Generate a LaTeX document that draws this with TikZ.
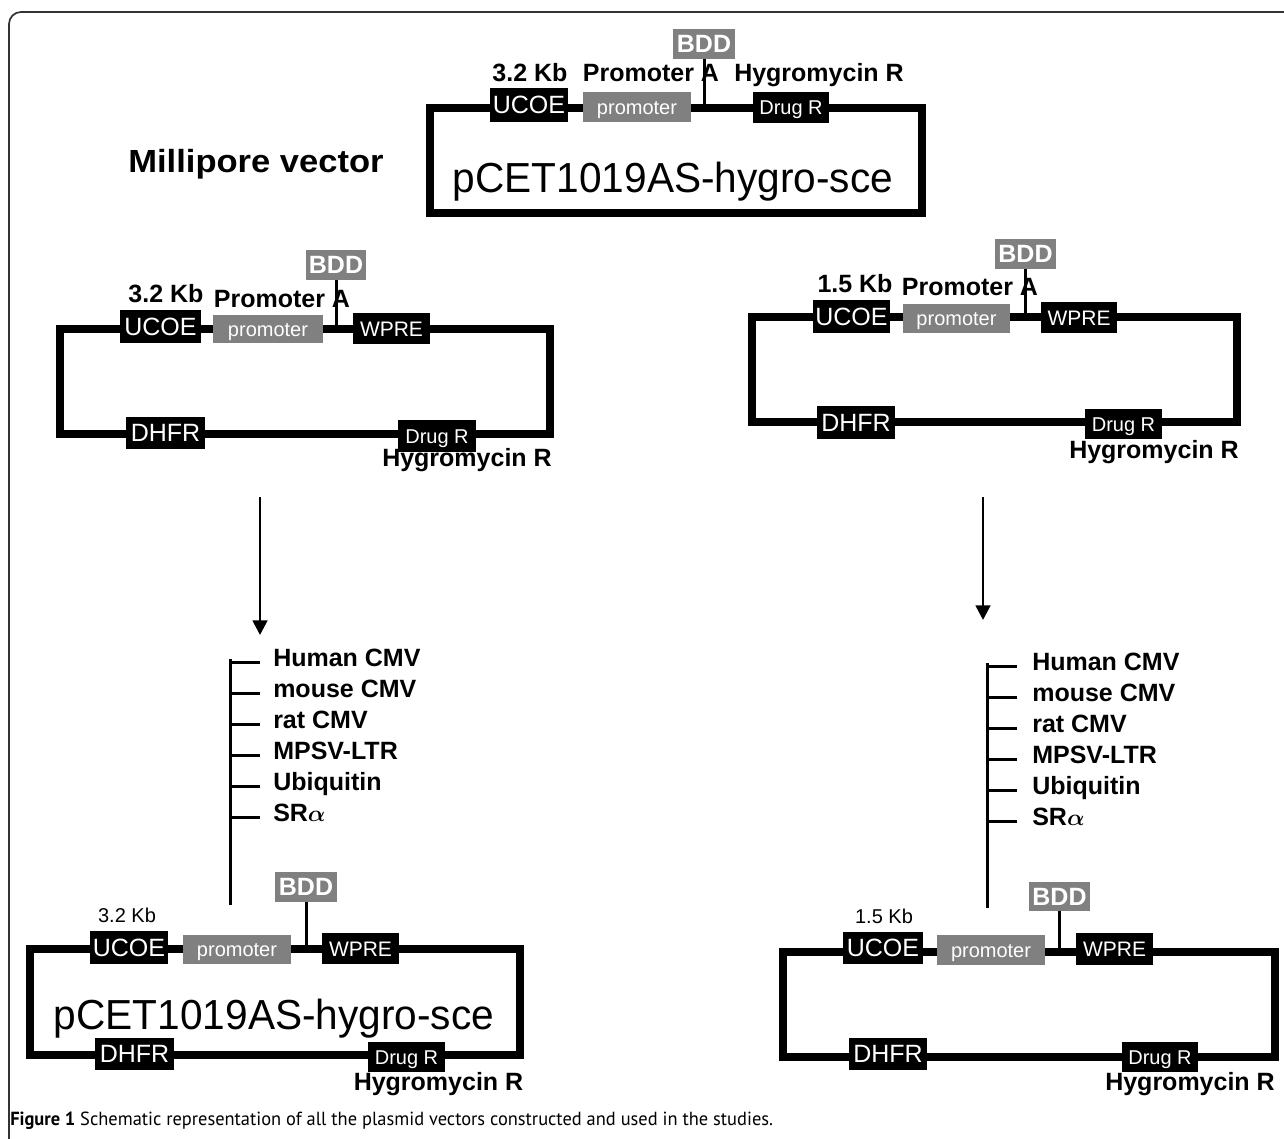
\documentclass[tikz,border=0pt]{standalone}
\usepackage{fontspec}
\usepackage{graphicx}
\setmainfont{Liberation Sans}
\newfontfamily\capfont{PT Sans}
\usetikzlibrary{arrows.meta}
\definecolor{boxgray}{gray}{0.5}
\begin{document}
\begin{tikzpicture}[x=0.75pt,y=-0.75pt,
  bb/.style={line width=5.6pt},
  bx/.style 2 args={minimum width=#1*0.75pt, minimum height=#2*0.75pt},
  part/.style={inner sep=0pt, text=white, anchor=center},
  blk/.style={part, fill=black},
  gry/.style={part, fill=boxgray},
  txtL/.style={font=\fontsize{18.75pt}{20pt}\selectfont, text height=13.4pt, text depth=0pt},
  txtS/.style={font=\fontsize{15pt}{16pt}\selectfont, text height=10.7pt, text depth=0pt},
  txtW/.style={font=\fontsize{15.75pt}{17pt}\selectfont, text height=11.3pt, text depth=0pt},
  txtB/.style={font=\bfseries\fontsize{18.75pt}{20pt}\selectfont, text height=13.4pt, text depth=0pt},
  lbl/.style={font=\bfseries\fontsize{18.75pt}{20pt}\selectfont, anchor=base, inner sep=0pt},
  kbr/.style={font=\fontsize{15pt}{16pt}\selectfont, anchor=base, inner sep=0pt},
  vname/.style={font=\fontsize{31.5pt}{33pt}\selectfont, anchor=base, inner sep=0pt},
  stem/.style={line width=2.25pt},
  lst/.style={line width=2.25pt},
  arr/.style={line width=2pt, -{Triangle[width=11pt,length=11pt]}}
]
\useasboundingbox (0,0) rectangle (1284,1138);
\clip (0,0) rectangle (1284,1138);
\fill[white] (0,0) rectangle (1284,1138);
% frame
\draw[black!80, line width=1.3pt, rounded corners=9pt] (9,1150) -- (9,12) -- (1300,12);

% ---------- top vector ----------
\node[anchor=base, inner sep=0pt, font=\bfseries\fontsize{24pt}{26pt}\selectfont] (mv) at (256,172) {\scalebox{1.08}[1]{Millipore vector}};
\coordinate (tTop) at (430,108);
\draw[bb] (430,108) rectangle (922,213);
\node[blk,bx={78}{34},txtL] (tU) at (529,105) {UCOE};
\node[gry,bx={108}{30},txtS] (tP) at (637,107) {promoter};
\node[gry,bx={62}{30},txtB] (tB) at (704,44) {BDD};
\node[blk,bx={76}{31},txtS] (tD) at (791,107.5) {Drug R};
\draw[stem] (tB.south) -- (tB.south |- tTop);
\node[lbl] (tK) at (530,82) {3.2 Kb};
\node[lbl] (tPA) at (651,82) {Promoter A};
\node[lbl] (tH) at (819,82) {Hygromycin R};
\node[vname] (tN) at (673,192) {\scalebox{0.967}[1]{pCET1019AS-hygro-sce}};

% ---------- middle left ----------
\coordinate (lTop) at (60,329);
\draw[bb] (60,329) rectangle (550,434);
\node[blk,bx={81}{33},txtL] (lU) at (160.5,326.5) {UCOE};
\node[gry,bx={110}{28},txtS] (lP) at (268,329) {promoter};
\node[gry,bx={60}{30},txtB] (lB) at (336,265) {BDD};
\node[blk,bx={77}{31},txtW] (lW) at (391.5,328.5) {WPRE};
\node[blk,bx={79}{32},txtL] (lF) at (165.5,433) {DHFR};
\node[blk,bx={78}{32},txtS] (lD) at (437,436) {Drug R};
\draw[stem] (lB.south) -- (lB.south |- lTop);
\node[lbl] (lK) at (166,302) {3.2 Kb};
\node[lbl] (lPA) at (282,307) {Promoter A};
\node[lbl] (lH) at (467,466) {Hygromycin R};

% ---------- middle right ----------
\coordinate (rTop) at (752,317);
\draw[bb] (752,317) rectangle (1237,422);
\node[blk,bx={77}{33},txtL] (rU) at (851.5,316.5) {UCOE};
\node[gry,bx={107}{29},txtS] (rP) at (956.5,318.5) {promoter};
\node[gry,bx={61}{30},txtB] (rB) at (1025.5,254) {BDD};
\node[blk,bx={76}{31},txtW] (rW) at (1079,317.5) {WPRE};
\node[blk,bx={78}{33},txtL] (rF) at (856,422.5) {DHFR};
\node[blk,bx={77}{30},txtS] (rD) at (1123.5,424) {Drug R};
\draw[stem] (rB.south) -- (rB.south |- rTop);
\node[lbl] (rK) at (855,292) {1.5 Kb};
\node[lbl] (rPA) at (970,295) {Promoter A};
\node[lbl] (rH) at (1154,458) {Hygromycin R};

% ---------- arrows ----------
\coordinate (a1s) at (260,497);
\coordinate (a1e) at (260,635);
\draw[arr] (a1s) -- (a1e);
\coordinate (a2s) at (983,497);
\coordinate (a2e) at (983,620);
\draw[arr] (a2s) -- (a2e);

% ---------- promoter lists ----------
\coordinate (L0) at (230,659);
\coordinate (L1) at (230,905);
\draw[lst] (L0) -- (L1);
\foreach \t [count=\i] in {Human CMV, mouse CMV, rat CMV, MPSV-LTR, Ubiquitin, SR{\boldmath$\alpha$}}{
  \node[lbl, anchor=base west] (li\i) at (273,{666+31*(\i-1)}) {\t};
  \draw[lst] (L0 |- li\i.mid west) -- ++(30,0);
}
\coordinate (R0) at (987,663);
\coordinate (R1) at (987,908);
\draw[lst] (R0) -- (R1);
\foreach \t [count=\i] in {Human CMV, mouse CMV, rat CMV, MPSV-LTR, Ubiquitin, SR{\boldmath$\alpha$}}{
  \node[lbl, anchor=base west] (ri\i) at (1032,{670+31*(\i-1)}) {\t};
  \draw[lst] (R0 |- ri\i.mid west) -- ++(30,0);
}

% ---------- bottom left ----------
\coordinate (bTop) at (30,949);
\draw[bb] (30,949) rectangle (520,1055);
\node[blk,bx={78}{33},txtL] (bU) at (129,947.5) {UCOE};
\node[gry,bx={108}{29},txtS] (bP) at (237,949.5) {promoter};
\node[gry,bx={62}{30},txtB] (bB) at (306,887) {BDD};
\node[blk,bx={77}{31},txtW] (bW) at (360.5,948.5) {WPRE};
\node[blk,bx={79}{32},txtL] (bF) at (134.5,1054) {DHFR};
\node[blk,bx={77}{30},txtS] (bD) at (406.5,1057) {Drug R};
\draw[stem] (bB.south) -- (bB.south |- bTop);
\node[kbr] (bK) at (127,922) {3.2 Kb};
\node[vname] (bN) at (274,1029) {\scalebox{0.967}[1]{pCET1019AS-hygro-sce}};
\node[lbl] (bH) at (438.5,1090) {Hygromycin R};

% ---------- bottom right ----------
\coordinate (cTop) at (783,952);
\draw[bb] (783,952) rectangle (1275,1057);
\node[blk,bx={80}{32},txtL] (cU) at (883,948) {UCOE};
\node[gry,bx={108}{30},txtS] (cP) at (991,950) {promoter};
\node[gry,bx={61}{29},txtB] (cB) at (1059.5,896.5) {BDD};
\node[blk,bx={77}{32},txtW] (cW) at (1114.5,949) {WPRE};
\node[blk,bx={78}{32},txtL] (cF) at (888,1054) {DHFR};
\node[blk,bx={76}{30},txtS] (cD) at (1160,1057) {Drug R};
\draw[stem] (cB.south) -- (cB.south |- cTop);
\node[kbr] (cK) at (884,923) {1.5 Kb};
\node[lbl] (cH) at (1190,1090) {Hygromycin R};

% ---------- caption ----------
\node[anchor=base west, inner sep=0pt, font=\capfont\fontsize{14.25pt}{16pt}\selectfont] (cap) at (10,1125) {\scalebox{0.97}[1]{\textbf{Figure 1} Schematic representation of all the plasmid vectors constructed and used in the studies.}};
\end{tikzpicture}
\end{document}
